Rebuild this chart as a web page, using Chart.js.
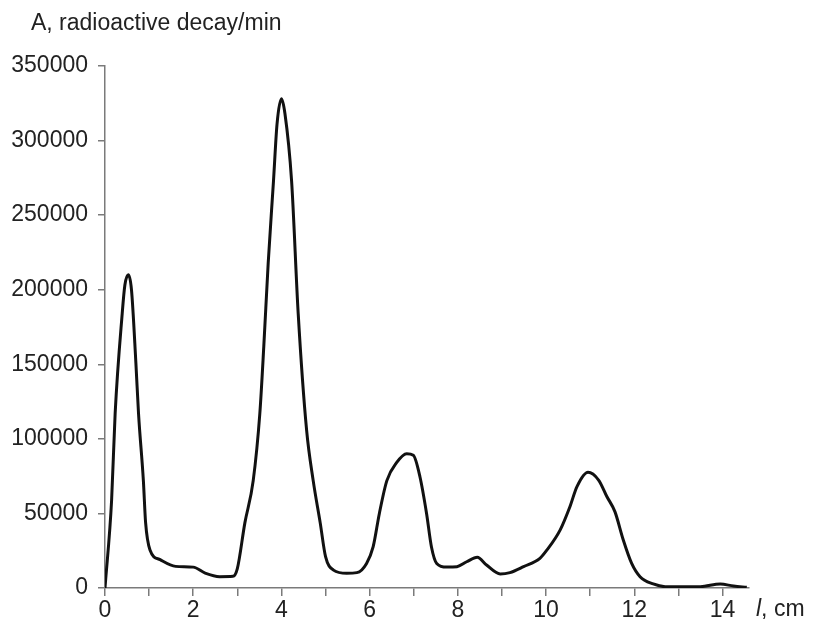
<!DOCTYPE html>
<html>
<head>
<meta charset="utf-8">
<script src="https://cdn.jsdelivr.net/npm/chart.js@4/dist/chart.umd.min.js"></script>
<style>
  html, body { margin: 0; padding: 0; background: #fff; }
  #wrap { width: 813px; height: 634px; }
</style>
</head>
<body>
<div id="wrap"><canvas id="decay" width="813" height="634"></canvas></div>
<script>
// ── Data ──
const positions = [0, 0.15, 0.23, 0.39, 0.45, 0.53, 0.6, 0.7, 0.76, 0.87, 0.92, 1.02, 1.25, 1.6, 2.0,
  2.27, 2.6, 2.9, 3.0, 3.17, 3.36, 3.51, 3.6, 3.7, 3.82, 3.9, 4.0, 4.08, 4.23, 4.38, 4.57, 4.72,
  4.88, 5.0, 5.18, 5.48, 5.71, 5.93, 6.08, 6.22, 6.39, 6.61, 6.84, 6.99, 7.14, 7.29, 7.4, 7.52,
  7.75, 7.98, 8.2, 8.44, 8.65, 8.96, 9.18, 9.49, 9.86, 10.02, 10.32, 10.54, 10.7, 10.95, 11.19,
  11.38, 11.56, 11.75, 11.94, 12.13, 12.43, 12.7, 13.0, 13.5, 13.95, 14.25, 14.55];
const activity = [0, 59000, 117000, 184000, 203000, 210000, 200000, 151000, 117000, 72000, 44000,
  25500, 19000, 14500, 14000, 10000, 7600, 7800, 13000, 43500, 72000, 117000, 162000, 218000,
  273000, 311000, 328000, 318000, 273000, 184000, 106000, 72000, 43500, 21000, 12000, 9900, 10300,
  16500, 27700, 50000, 72000, 84000, 90000, 89000, 74600, 50000, 27700, 16500, 14000, 14300, 17600,
  20600, 15400, 9400, 10300, 14300, 19900, 25500, 39000, 54500, 68000, 77600, 72400, 61200, 51200,
  32200, 16500, 7600, 2700, 900, 800, 900, 2700, 1300, 500];
const xLabelTicks = [0, 2, 4, 6, 8, 10, 12, 14];
const yTicks = [0, 50000, 100000, 150000, 200000, 250000, 300000, 350000];

const FONT = { family: 'Arial, "Liberation Sans", sans-serif', size: 23 };
const AXIS_GREY = '#7a7a7a';
const TEXT = '#222';

// axis captions drawn straight onto the canvas
const captions = {
  id: 'captions',
  afterDraw(chart) {
    const ctx = chart.ctx;
    ctx.save();
    ctx.fillStyle = TEXT;
    ctx.textBaseline = 'alphabetic';
    ctx.textAlign = 'left';
    ctx.font = `23px ${FONT.family}`;
    ctx.fillText('A, radioactive decay/min', 31, 30);
    const y = chart.chartArea.bottom + 28;
    ctx.font = `italic 23px ${FONT.family}`;
    ctx.fillText('l', 756, y);
    const w = ctx.measureText('l').width;
    ctx.font = `23px ${FONT.family}`;
    ctx.fillText(', cm', 756 + w, y);
    ctx.restore();
  }
};

new Chart(document.getElementById('decay'), {
  type: 'line',
  data: {
    datasets: [{
      data: positions.map((x, i) => ({ x, y: activity[i] })),
      borderColor: '#111',
      borderWidth: 3,
      pointRadius: 0,
      fill: false,
      cubicInterpolationMode: 'monotone'
    }]
  },
  options: {
    responsive: false,
    animation: false,
    layout: { padding: { top: 66, right: 64, left: 0, bottom: 0 } },
    plugins: { legend: { display: false }, tooltip: { enabled: false } },
    scales: {
      x: {
        type: 'linear',
        min: 0,
        max: 14.6,
        afterFit: s => { s.height = 46; },
        afterBuildTicks: s => {
          const t = [];
          for (let v = 0; v <= 14; v++) t.push({ value: v });
          s.ticks = t;
        },
        ticks: {
          font: FONT,
          color: TEXT,
          padding: 1,
          maxRotation: 0,
          autoSkip: false,
          callback: v => xLabelTicks.includes(v) ? String(v) : ''
        },
        grid: { drawOnChartArea: false, color: AXIS_GREY, tickLength: 8, lineWidth: 1.5 },
        border: { color: AXIS_GREY, width: 1.5 }
      },
      y: {
        min: 0,
        max: 350000,
        afterFit: s => { s.width = 105; },
        afterBuildTicks: s => { s.ticks = yTicks.map(v => ({ value: v })); },
        ticks: {
          font: FONT,
          color: TEXT,
          padding: 10,
          callback: v => String(v)
        },
        grid: { drawOnChartArea: false, color: AXIS_GREY, tickLength: 7, lineWidth: 1.5 },
        border: { color: AXIS_GREY, width: 1.5 }
      }
    }
  },
  plugins: [captions]
});
</script>
</body>
</html>
